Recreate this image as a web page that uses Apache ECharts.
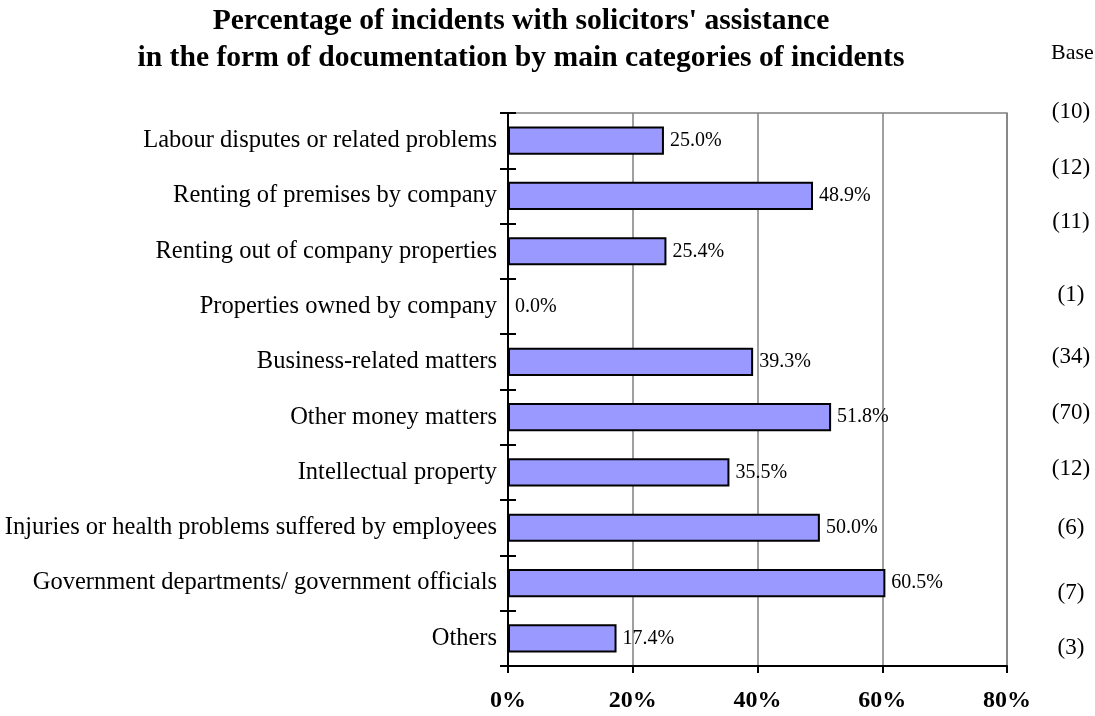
<!DOCTYPE html>
<html><head><meta charset="utf-8">
<script src="https://cdn.jsdelivr.net/npm/echarts@6/dist/echarts.min.js"></script>
<style>html,body{margin:0;padding:0;background:#fff}#c{width:1095px;height:716px}</style>
</head><body><div id="c"></div>
<script>
const categories = [
  "Labour disputes or related problems",
  "Renting of premises by company",
  "Renting out of company properties",
  "Properties owned by company",
  "Business-related matters",
  "Other money matters",
  "Intellectual property",
  "Injuries or health problems suffered by employees",
  "Government departments/ government officials",
  "Others"
];
const values = [25.0, 48.9, 25.4, 0.0, 39.3, 51.8, 35.5, 50.0, 60.5, 17.4];
const baseLabels = ["(10)", "(12)", "(11)", "(1)", "(34)", "(70)", "(12)", "(6)", "(7)", "(3)"];
const baseLabelY = [112, 168, 222, 295, 357, 413, 469, 528, 593, 648];
const xTicks = [0, 20, 40, 60, 80];

const font = "'Liberation Serif', 'Times New Roman', serif";
const chart = echarts.init(document.getElementById('c'));
const graphics = [
  {type:'text', x: 1051, y: 53, style:{text:'Base', font:'22px ' + font, fill:'#000', verticalAlign:'middle'}}
];
baseLabels.forEach((t, i) => {
  graphics.push({type:'text', x: 1071, y: baseLabelY[i], style:{text:t, font:'23px ' + font, fill:'#000', align:'center', verticalAlign:'middle'}});
});
chart.setOption({
  animation: false,
  title: {
    text: "Percentage of incidents with solicitors' assistance\nin the form of documentation by main categories of incidents",
    left: 516, top: -2, textAlign: 'center',
    textStyle: {fontFamily: font, fontSize: 29.6, fontWeight: 'bold', color: '#000', lineHeight: 37}
  },
  graphic: graphics,
  grid: {left: 508, right: 88, top: 113, bottom: 50, show: true, borderColor: '#808080', borderWidth: 1.5, containLabel: false},
  xAxis: {
    type: 'value', min: 0, max: 80, interval: 20,
    axisLine: {show: true, lineStyle: {color: '#000', width: 2}},
    axisTick: {show: true, length: 7, lineStyle: {color: '#000', width: 2}},
    splitLine: {show: true, lineStyle: {color: '#808080', width: 1.5}},
    axisLabel: {formatter: v => v + '%', fontFamily: font, fontSize: 24, fontWeight: 'bold', color: '#000', margin: 23}
  },
  yAxis: [{
    type: 'category', data: categories, inverse: true,
    axisLine: {show: true, lineStyle: {color: '#000', width: 2}},
    axisTick: {show: true, length: 8, lineStyle: {color: '#000', width: 2}},
    axisLabel: {fontFamily: font, fontSize: 24.5, color: '#000', margin: 11}
  }, {
    type: 'category', data: categories, inverse: true, position: 'left',
    axisLine: {show: false},
    axisTick: {show: true, inside: true, length: 8, lineStyle: {color: '#000', width: 2}},
    axisLabel: {show: false}
  }],
  series: [{
    type: 'bar', data: values, barWidth: '51%',
    itemStyle: {color: '#9999FF', borderColor: '#000', borderWidth: 2},
    label: {show: true, position: 'right', distance: 6, formatter: p => p.value.toFixed(1) + '%', fontFamily: font, fontSize: 20, color: '#000'}
  }]
});
</script></body></html>
